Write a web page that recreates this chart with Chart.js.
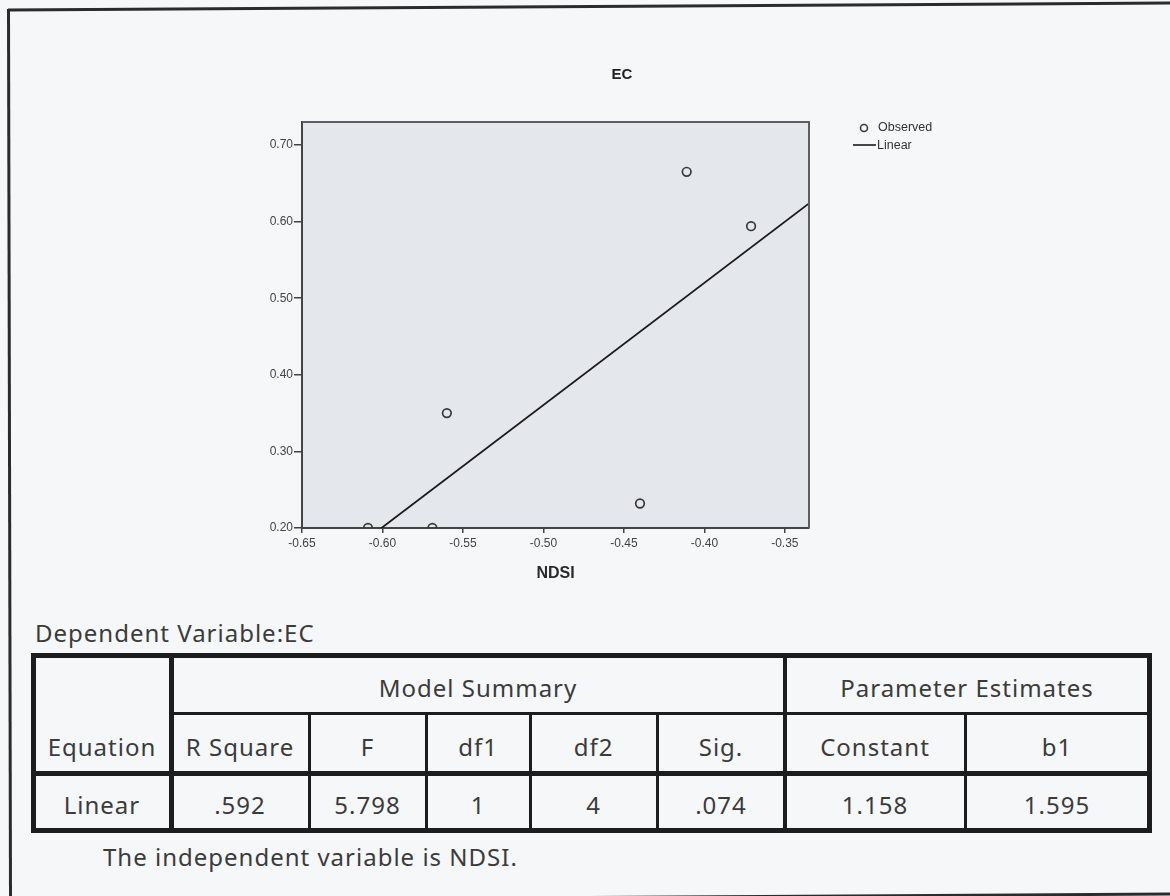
<!DOCTYPE html>
<html>
<head>
<meta charset="utf-8">
<script src="https://cdn.jsdelivr.net/npm/chart.js@4/dist/chart.umd.min.js"></script>
<style>
  html, body { margin: 0; padding: 0; }
  body { width: 1170px; height: 896px; overflow: hidden; position: relative; background: #f6f7f9; font-family: "Noto Sans", sans-serif; }
  #frame { position: absolute; left: 0; top: 0; }
  #plotBox { position: absolute; left: 240px; top: 40px; width: 764px; height: 560px; }
  .txt { position: absolute; height: 24px; line-height: 24px; font-size: 24px; letter-spacing: 1px; color: #3b3b3b; white-space: nowrap; }
  .cell { text-align: center; }
  .rule { position: absolute; background: #1d1d1d; }
</style>
</head>
<body>
<svg id="frame" width="1170" height="896">
  <line x1="8" y1="10" x2="1170" y2="3" stroke="#2b2b2b" stroke-width="3"/>
  <line x1="8.5" y1="9" x2="10.5" y2="896" stroke="#2b2b2b" stroke-width="3"/>
  <line x1="8" y1="901" x2="1170" y2="894" stroke="#2b2b2b" stroke-width="3"/>
</svg>

<div id="plotBox"><canvas id="chart" width="764" height="560"></canvas></div>

<div id="table"></div>

<script>
// Observed cases
const ndsi = [-0.609, -0.569, -0.560, -0.440, -0.411, -0.371];
const ec   = [0.200, 0.200, 0.350, 0.232, 0.665, 0.594];

// Linear fit EC = constant + b1 * NDSI
const fitConstant = 1.158;
const fitSlope = 1.595;
const fitRange = [-0.65, -0.335];

// Axis ticks
const xTicks = [-0.65, -0.60, -0.55, -0.50, -0.45, -0.40, -0.35];
const yTicks = [0.20, 0.30, 0.40, 0.50, 0.60, 0.70];

// Summary table text
const chartTitle = 'EC';
const xTitle = 'NDSI';
const dependentNote = 'Dependent Variable:EC';
const independentNote = 'The independent variable is NDSI.';
const groupHeaders = ['Model Summary', 'Parameter Estimates'];
const columnHeaders = ['Equation', 'R Square', 'F', 'df1', 'df2', 'Sig.', 'Constant', 'b1'];
const linearRow = ['Linear', '.592', '5.798', '1', '4', '.074', '1.158', '1.595'];

// ---- scatter plot ----
const plotDecor = {
  id: 'plotDecor',
  beforeDraw(chart) {
    const { ctx, chartArea: a } = chart;
    ctx.save();
    ctx.fillStyle = '#e4e7ec';
    ctx.fillRect(a.left, a.top, a.width, a.height);
    ctx.restore();
  },
  afterDraw(chart) {
    const { ctx, chartArea: a } = chart;
    ctx.save();
    // top and right edges of the plot panel
    ctx.strokeStyle = '#5e5e5e';
    ctx.lineWidth = 2;
    ctx.beginPath();
    ctx.moveTo(a.left, a.top);
    ctx.lineTo(a.right, a.top);
    ctx.lineTo(a.right, a.bottom);
    ctx.stroke();

    // title
    ctx.fillStyle = '#222';
    ctx.font = 'bold 15px Arial';
    ctx.textAlign = 'center';
    ctx.textBaseline = 'middle';
    ctx.fillText(chartTitle, 382, 35);

    // legend
    const ds = chart.data.datasets;
    ctx.font = '12.5px Arial';
    ctx.textAlign = 'left';
    ctx.fillStyle = '#333';
    ctx.strokeStyle = '#3a3a3a';
    ctx.lineWidth = 1.6;
    ctx.beginPath();
    ctx.arc(624, 88, 3.5, 0, Math.PI * 2);
    ctx.stroke();
    ctx.fillText(ds[0].label, 638, 88);
    ctx.strokeStyle = '#1a1a1a';
    ctx.beginPath();
    ctx.moveTo(613, 105);
    ctx.lineTo(636, 105);
    ctx.stroke();
    ctx.fillText(ds[1].label, 637, 106);
    ctx.restore();
  }
};

const tickFont = { family: 'Arial', size: 12 };

new Chart(document.getElementById('chart'), {
  type: 'scatter',
  data: {
    datasets: [
      {
        label: 'Observed',
        data: ndsi.map((x, i) => ({ x, y: ec[i] })),
        pointStyle: 'circle',
        pointRadius: 4.3,
        pointBorderWidth: 1.7,
        borderColor: '#383838',
        backgroundColor: 'rgba(0,0,0,0)',
        showLine: false,
        clip: 0
      },
      {
        label: 'Linear',
        data: fitRange.map(x => ({ x, y: fitConstant + fitSlope * x })),
        showLine: true,
        borderColor: '#1a1a1a',
        borderWidth: 1.8,
        pointRadius: 0,
        clip: 0
      }
    ]
  },
  options: {
    responsive: false,
    animation: false,
    devicePixelRatio: 1,
    layout: { padding: { left: 0, top: 82, right: 195, bottom: 0 } },
    plugins: { legend: { display: false }, tooltip: { enabled: false }, title: { display: false } },
    scales: {
      x: {
        type: 'linear',
        position: 'bottom',
        min: -0.65,
        max: -0.335,
        afterBuildTicks: s => { s.ticks = xTicks.map(v => ({ value: v })); },
        afterFit: s => { s.height = 72; },
        grid: { drawOnChartArea: false, drawTicks: true, tickLength: 5, color: '#444', lineWidth: 1.5 },
        border: { display: true, color: '#444', width: 2 },
        ticks: {
          font: tickFont, color: '#444', padding: 3,
          maxRotation: 0, autoSkip: false, includeBounds: false,
          callback: v => v.toFixed(2)
        },
        title: {
          display: true, text: xTitle, color: '#2a2a2a',
          font: { family: 'Arial', size: 16, weight: 'bold' },
          padding: { top: 0, bottom: 17 }
        }
      },
      y: {
        type: 'linear',
        position: 'left',
        min: 0.20,
        max: 0.73,
        afterBuildTicks: s => { s.ticks = yTicks.map(v => ({ value: v })); },
        afterFit: s => { s.width = 62; },
        grid: { drawOnChartArea: false, drawTicks: true, tickLength: 8, color: '#444', lineWidth: 1.5 },
        border: { display: true, color: '#444', width: 2 },
        ticks: {
          font: tickFont, color: '#444', padding: 1,
          autoSkip: false, includeBounds: false,
          callback: v => v.toFixed(2)
        }
      }
    }
  },
  plugins: [plotDecor]
});

// ---- summary table ----
const colEdges = [33, 171, 309, 426, 530, 657, 785, 965, 1149];
const rowEdges = [655, 713, 773, 830];
const host = document.getElementById('table');

function rule(x, y, w, h) {
  const d = document.createElement('div');
  d.className = 'rule';
  Object.assign(d.style, { left: x + 'px', top: y + 'px', width: w + 'px', height: h + 'px' });
  host.appendChild(d);
}
function text(str, left, width, capCenter, cls) {
  const d = document.createElement('div');
  d.className = 'txt' + (cls ? ' ' + cls : '');
  d.textContent = str;
  d.style.left = left + 'px';
  if (width) d.style.width = width + 'px';
  d.style.top = (capCenter - 12.75) + 'px';
  host.appendChild(d);
}

const L = colEdges[0], R = colEdges[colEdges.length - 1];
const T = rowEdges[0], B = rowEdges[3];
const thick = 5, mid = 4, thin = 3;

// outer border
rule(L - thick / 2, T - thick / 2, R - L + thick, thick);
rule(L - thick / 2, B - thick / 2, R - L + thick, thick);
rule(L - thick / 2, T - thick / 2, thick, B - T + thick);
rule(R - thick / 2, T - thick / 2, thick, B - T + thick);
// header separators
rule(colEdges[1] - thick / 2, T, thick, B - T);
rule(colEdges[6] - mid / 2, T, mid, B - T);
rule(colEdges[1], rowEdges[1] - thin / 2, R - colEdges[1], thin);
rule(L, rowEdges[2] - thick / 2, R - L, thick);
[2, 3, 4, 5, 7].forEach(i => rule(colEdges[i] - thin / 2, rowEdges[1], thin, B - rowEdges[1]));

// texts
const shift = 4.5;
const rowCenter = r => (rowEdges[r] + rowEdges[r + 1]) / 2 + shift;
text(groupHeaders[0], colEdges[1], colEdges[6] - colEdges[1], rowCenter(0), 'cell');
text(groupHeaders[1], colEdges[6], R - colEdges[6], rowCenter(0), 'cell');
columnHeaders.forEach((h, i) => text(h, colEdges[i], colEdges[i + 1] - colEdges[i], rowCenter(1), 'cell'));
linearRow.forEach((v, i) => text(v, colEdges[i], colEdges[i + 1] - colEdges[i], rowCenter(2), 'cell'));

text(dependentNote, 35, 0, 633.5);
text(independentNote, 103, 0, 858);
</script>
</body>
</html>
